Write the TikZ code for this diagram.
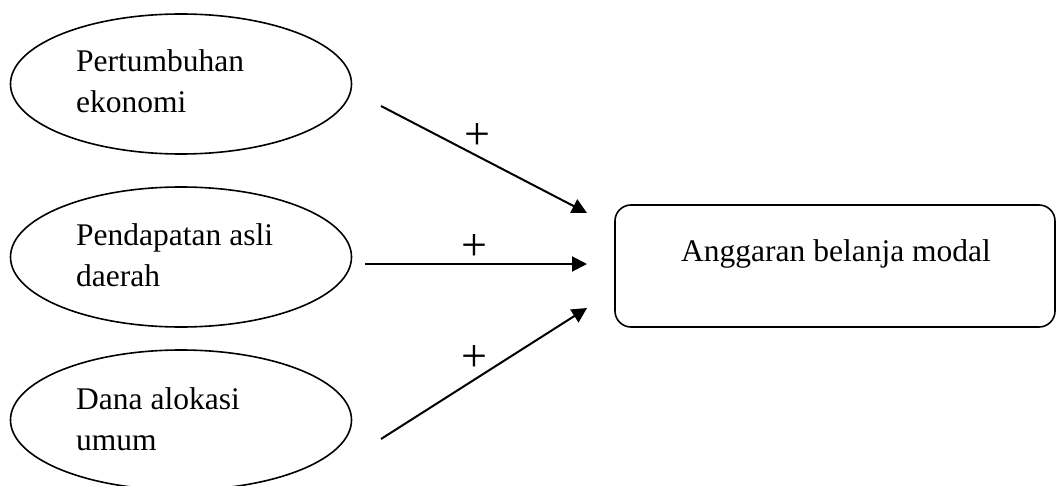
\documentclass[tikz,border=0pt]{standalone}
\usepackage{fontspec}
\setmainfont{Liberation Serif}
\usetikzlibrary{shapes.geometric,arrows.meta}
\begin{document}
\begin{tikzpicture}[x=1pt,y=-1pt,
  var/.style={draw,ellipse,line width=1.6pt,minimum width=341pt,minimum height=140pt,inner sep=0pt},
  lbl/.style={anchor=base west,inner sep=0pt,font=\fontsize{31.5}{41}\selectfont,align=left},
  target/.style={draw,rounded corners=16pt,line width=1.6pt,minimum width=440pt,minimum height=122pt,inner sep=0pt},
  rel/.style={line width=2pt,-{Triangle[length=15pt,width=15pt]}},
  sign/.style={inner sep=0pt,font=\fontsize{46}{46}\selectfont}]
\useasboundingbox (0,0) rectangle (1056,486);
\clip (0,0) rectangle (1056,486);
\node[var] (e1) at (181,84) {};
\node[var] (e2) at (181,257) {};
\node[var] (e3) at (181,420) {};
\node[lbl] (t1) at (76,113) {Pertumbuhan\\ekonomi};
\node[lbl] (t2) at (76,286) {Pendapatan asli\\daerah};
\node[lbl] (t3) at (76,450) {Dana alokasi\\umum};
\node[target] (y) at (835,266) {};
\node[anchor=base,inner sep=0pt,font=\fontsize{31.5}{41}\selectfont] (ty) at (836,261) {Anggaran belanja modal};
\coordinate (s1) at (381,106);
\coordinate (s2) at (365,264);
\coordinate (s3) at (381,439);
\coordinate (p1) at (587,213);
\coordinate (p2) at (587,264);
\coordinate (p3) at (587,308);
\draw[rel] (s1) -- (p1);
\draw[rel] (s2) -- (p2);
\draw[rel] (s3) -- (p3);
\node[sign] (g1) at (477,137) {+};
\node[sign] (g2) at (474,248) {+};
\node[sign] (g3) at (474,359) {+};
\end{tikzpicture}
\end{document}
